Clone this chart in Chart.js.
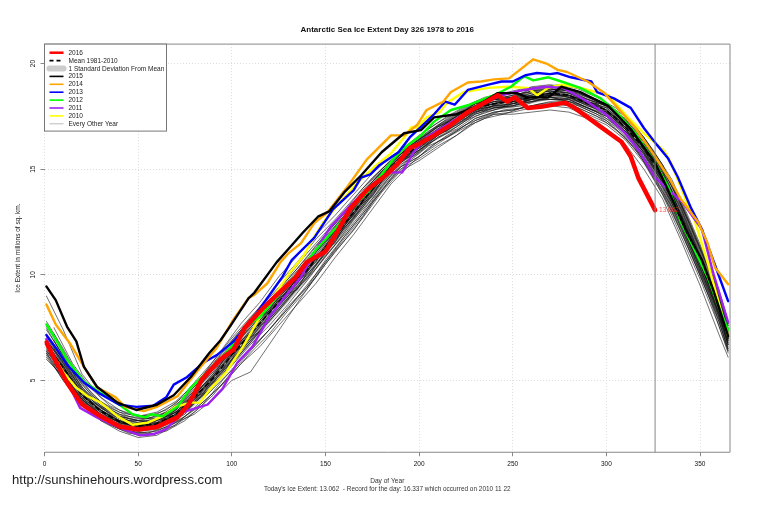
<!DOCTYPE html>
<html>
<head>
<meta charset="utf-8">
<script src="https://cdn.jsdelivr.net/npm/chart.js@4"></script>
<style>
  body { margin: 0; background: #fff; }
  #url { position: absolute; left: 12px; top: 472px; font: 13.1px "Liberation Sans", Arial, sans-serif; color: #222; }
</style>
</head>
<body>
<canvas id="c" width="759" height="506"></canvas>
<div id="url">http://sunshinehours.wordpress.com</div>
<script>
// values, day of year / extent in millions of sq km
const days2016 = [1,6,12,15,20,30,40,50,60,71,77,84,94,101,107,117,127,134,140,150,156,163,172,182,188,195,199,208,217,226,233,242,247,251,258,265,278,283,297,308,313,317,326];
const vals2016 = [6.8,5.9,4.9,4.5,3.87,3.3,2.82,2.68,2.8,3.25,3.87,5.05,6.0,6.47,7.5,8.45,9.3,9.87,10.6,11.1,12,13.1,14,14.7,15.2,16.0,16.15,16.6,17.1,17.7,18.05,18.5,18.2,18.4,17.9,17.95,18.15,17.9,17.0,16.3,15.6,14.6,13.06];

const days2015 = [1,6,12,17,21,28,39,49,60,69,78,88,94,99,109,112,124,130,138,146,152,160,169,180,192,201,208,220,229,242,252,258,269,276,286,301,313,326,333,343,351,357,365];
const vals2015 = [9.45,8.8,7.55,6.85,5.65,4.7,3.95,3.6,3.85,4.3,5.15,6.3,6.9,7.55,8.9,9.15,10.6,11.2,12,12.75,13,13.9,14.7,15.8,16.7,16.85,17.45,17.6,17.9,18.6,18.6,18.4,18.4,18.9,18.65,18,16.9,15.3,14,12,10.7,9.3,7.1];

const days2014 = [1,6,14,21,28,38,43,53,60,71,83,92,101,109,112,119,126,130,137,144,151,162,172,185,192,199,204,213,217,226,233,240,248,261,268,274,279,290,299,306,315,326,334,340,349,354,358,365];
const vals2014 = [8.6,7.65,6.7,5.65,4.67,4.2,3.75,3.55,3.75,4.25,5.6,6.55,7.9,8.9,9.05,9.6,10.6,11,11.5,12.45,12.95,14.2,15.45,16.6,16.6,17.1,17.8,18.2,18.65,19.1,19.15,19.25,19.3,20.2,20,19.7,19.6,19.15,18.6,17.9,17,15.6,14.5,13.55,12.5,11.5,10.35,9.55];

const days2013 = [1,6,12,21,30,40,49,58,65,69,76,85,92,101,111,121,127,132,144,154,165,169,174,179,189,195,201,208,214,219,226,237,244,250,257,263,270,274,281,292,295,304,313,320,327,333,338,345,351,357,365];
const vals2013 = [7.15,6.55,5.75,4.9,4.35,3.85,3.75,3.8,4.2,4.8,5.15,5.85,6.2,6.85,7.9,9.15,9.9,10.7,11.75,13.1,14,14.6,14.75,15.2,15.8,16.5,17,17.6,18.2,18.05,18.75,19,19.15,19.15,19.45,19.55,19.5,19.55,19.35,19.15,18.65,18.35,17.9,16.95,16.15,15.5,14.65,13.2,12.15,10.7,8.75];

const days2012 = [1,6,12,21,30,40,47,54,57,63,71,78,87,97,109,115,126,137,145,156,165,174,186,192,201,208,217,227,240,249,256,261,269,276,286,297,306,315,326,333,340,347,354,361,365];
const vals2012 = [7.65,6.95,6,4.95,4.4,3.85,3.4,3.25,3.4,3.3,3.75,4.65,5.4,6.3,7.65,8,9.15,10.25,11.2,12.25,13.25,14.05,15.45,16,16.6,17.25,17.8,18.05,18.5,18.9,19.4,19.2,19.35,19.15,18.85,18.35,17.65,16.75,15.3,14.15,12.45,11.2,9.9,8.25,7.4];

const days2011 = [1,6,13,19,28,39,51,58,65,74,87,95,103,111,120,130,137,144,153,163,174,183,191,197,204,213,222,233,244,256,267,277,288,299,310,318,326,341,351,357,365];
const vals2011 = [6.95,5.85,4.8,3.7,3.25,2.8,2.4,2.45,2.7,3.5,3.85,4.6,5.85,6.6,8,9.15,9.9,11.05,12.3,13.25,14.2,14.85,14.85,15.8,16.5,17,17.5,18.05,18.5,18.75,18.9,18.85,18.3,17.65,16.7,15.8,14.6,13.4,12.15,10.1,7.75];

const days2010 = [1,10,17,23,30,39,47,55,63,70,78,83,88,97,106,115,131,138,144,149,156,167,176,185,192,196,199,204,211,215,224,237,247,258,263,269,276,286,301,311,320,331,335,343,347,354,359,365];
const vals2010 = [6.7,5.4,4.65,4.25,3.95,3.3,2.9,3,3.3,3.75,3.95,3.95,4.55,5.4,6.6,8,10.1,10.85,11.8,12.5,13.25,14.35,15.1,15.75,16.5,17,16.95,17.45,17.7,18.15,18.65,18.85,18.9,18.85,18.5,18.85,19,18.85,18.5,17.5,16.7,15.85,15.2,13.4,12.6,10.6,9,7.1];

// thin lines, mean and sd all share these days
const days = [1,10,20,30,40,50,60,70,80,90,100,110,120,130,140,150,160,170,180,190,200,210,220,230,240,250,260,270,280,290,300,310,320,330,340,350,360,365];
const meanVals = [6.7,5.6,4.3,3.55,3.05,2.85,2.95,3.4,4.2,5.1,6.2,7.2,8.2,9.2,10.2,11.3,12.4,13.5,14.6,15.5,16.1,16.8,17.3,17.9,18.1,18.2,18.4,18.6,18.5,18.1,17.8,17,16,14.6,12.7,10.6,8.5,7];
const sdUpper = [7.2,6,4.7,3.9,3.4,3.2,3.3,3.8,4.6,5.6,6.7,7.7,8.7,9.7,10.7,11.8,12.9,13.9,15,15.8,16.5,17.1,17.6,18.2,18.4,18.5,18.7,18.9,18.8,18.4,18.1,17.4,16.4,15,13.2,11.1,9,7.5];
const sdLower = [6.2,5.1,3.9,3.2,2.7,2.5,2.6,3,3.8,4.6,5.7,6.7,7.7,8.7,9.7,10.8,11.9,13.1,14.2,15.2,15.7,16.5,17,17.6,17.8,17.9,18.1,18.3,18.2,17.8,17.5,16.6,15.6,14.2,12.2,10.1,8,6.5];

const yr1979 = [9.0,7.4,5.3,4.2,3.6,3.3,3.4,3.9,4.9,5.9,7.0,8.0,8.9,9.9,11.0,12.0,13.0,14.1,15.0,15.8,16.4,17.0,17.5,18.0,18.3,18.4,18.7,18.8,18.7,18.3,18.0,17.2,16.3,15.0,13.3,11.2,9.1,7.6];
const yr1980 = [6.3,5.0,3.9,3.2,2.7,2.4,2.5,3.0,3.4,4.1,5.0,5.4,6.7,8.0,9.3,10.5,11.6,12.7,13.9,14.9,15.4,16.0,16.6,17.2,17.6,17.6,17.7,17.8,17.7,17.4,16.9,16.2,15.0,13.6,11.6,9.5,7.2,6.1];
const yr1981 = [7.8,6.5,4.9,4.0,3.5,3.3,3.5,4.0,4.8,5.8,6.9,7.9,8.8,9.8,10.8,11.9,12.9,14.0,15.0,15.9,16.6,17.2,17.7,18.2,18.4,18.6,18.9,19.0,18.8,18.4,18.1,17.5,16.5,15.2,13.4,11.3,9.3,7.8];
const yr1982 = [6.1,5.1,3.9,3.1,2.6,2.3,2.4,2.9,3.7,4.6,5.5,6.5,7.4,8.5,9.4,10.7,11.8,12.9,14.0,15.1,15.6,16.2,16.8,17.4,17.7,17.8,18.0,18.1,18.0,17.6,17.2,16.5,15.4,13.9,12.0,10.0,7.8,6.5];
const yr1983 = [6.9,5.9,4.5,3.7,3.2,3.0,3.2,3.7,4.5,5.4,6.5,7.6,8.5,9.6,10.6,11.7,12.6,13.8,14.8,15.7,16.3,17.0,17.4,18.0,18.2,18.3,18.5,18.7,18.6,18.2,17.9,17.1,16.2,14.9,13.0,10.9,8.8,7.3];
const yr1984 = [6.4,5.4,4.1,3.4,2.9,2.7,2.8,3.2,4.0,4.9,5.9,6.9,7.9,8.9,10.0,11.0,12.2,13.2,14.4,15.3,15.9,16.6,17.1,17.6,17.9,18.0,18.2,18.3,18.3,17.9,17.5,16.8,15.8,14.3,12.4,10.3,8.2,6.8];
const yr1985 = [7.1,5.8,4.4,3.6,3.1,2.8,2.9,3.5,4.3,5.3,6.4,7.3,8.4,9.4,10.4,11.5,12.7,13.6,14.7,15.6,16.2,16.9,17.5,18.0,18.3,18.4,18.6,18.7,18.5,18.2,17.8,17.1,16.0,14.7,12.9,10.8,8.7,7.2];
const yr1986 = [6.5,5.3,4.0,3.3,2.9,2.6,2.7,3.1,3.9,4.8,5.7,6.7,7.6,8.6,9.7,10.9,11.9,13.0,14.2,15.2,15.8,16.5,16.9,17.5,17.8,18.1,18.2,18.4,18.2,17.8,17.4,16.7,15.6,14.1,12.2,10.1,8.0,6.6];
const yr1987 = [7.4,6.2,4.6,3.8,3.3,3.1,3.0,3.6,4.5,5.5,6.6,7.5,8.6,9.5,10.6,11.6,12.5,13.6,14.6,15.4,16.1,16.7,17.2,17.8,18.0,18.3,18.3,18.6,18.4,18.0,17.7,17.0,16.1,14.8,13.1,11.0,8.9,7.4];
const yr1988 = [6.6,5.5,4.2,3.5,3.0,2.8,3.0,3.3,4.1,5.0,6.1,7.1,8.0,9.1,10.1,11.2,12.3,13.4,14.5,15.4,16.0,16.7,17.3,17.7,18.0,18.1,18.3,18.5,18.4,18.0,17.7,16.9,15.9,14.5,12.6,10.5,8.4,7.0];
const yr1989 = [6.0,5.2,4.0,3.2,2.8,2.5,2.6,3.0,3.6,4.4,5.3,6.3,7.2,8.3,9.3,10.6,11.7,12.8,14.0,15.0,15.5,16.1,16.6,17.3,17.6,17.7,17.9,18.0,17.9,17.5,17.1,16.4,15.3,13.8,11.8,9.8,7.6,6.4];
const yr1990 = [7.0,5.7,4.3,3.6,3.1,2.9,3.1,3.6,4.4,5.2,6.3,7.4,8.3,9.3,10.3,11.4,12.5,13.7,14.7,15.6,16.3,16.8,17.4,17.9,18.2,18.4,18.5,18.8,18.6,18.3,18.0,17.2,16.2,14.8,12.8,10.7,8.6,7.1];
const yr1991 = [6.8,5.6,4.4,3.5,3.0,2.8,2.9,3.4,4.2,5.2,6.2,7.0,8.1,9.0,10.2,11.3,12.4,13.5,14.5,15.5,16.0,16.7,17.2,17.8,18.1,18.2,18.4,18.5,18.5,18.1,17.6,16.9,16.0,14.6,12.5,10.4,8.3,6.9];
const yr1992 = [6.3,5.2,4.1,3.4,2.8,2.7,2.8,3.2,3.9,4.9,6.0,6.9,7.8,8.8,9.9,11.0,12.1,13.2,14.3,15.3,15.9,16.5,17.0,17.6,17.9,18.0,18.3,18.3,18.2,17.9,17.5,16.7,15.7,14.2,12.3,10.2,8.1,6.7];
const yr1993 = [7.5,6.1,4.7,3.8,3.3,3.1,3.3,3.7,4.6,5.6,6.7,7.7,8.6,9.6,10.6,11.7,12.8,13.9,14.9,15.7,16.4,17.1,17.6,18.1,18.3,18.5,18.7,18.8,18.7,18.4,18.0,17.3,16.4,15.1,13.2,11.1,9.0,7.5];
const yr1994 = [6.6,5.7,4.2,3.4,3.0,2.9,2.9,3.4,4.3,5.0,6.0,7.1,8.2,9.3,10.3,11.2,12.3,13.4,14.6,15.5,16.2,16.8,17.3,17.9,18.2,18.2,18.5,18.6,18.4,18.1,17.8,17.0,15.9,14.4,12.7,10.6,8.5,7.0];
const yr1995 = [7.2,6.0,4.5,3.7,3.2,3.0,3.1,3.5,4.3,5.3,6.5,7.5,8.4,9.4,10.5,11.6,12.6,13.7,14.8,15.6,16.3,16.9,17.5,18.1,18.3,18.3,18.6,18.7,18.6,18.2,17.9,17.2,16.3,14.9,13.1,10.9,8.7,7.3];
const yr1996 = [6.2,5.0,3.8,3.1,2.7,2.5,2.5,2.9,3.5,4.3,5.4,6.4,7.4,8.4,9.5,10.6,11.8,12.9,14.1,15.1,15.6,16.3,16.8,17.4,17.7,17.8,18.0,18.2,18.1,17.7,17.3,16.5,15.5,14.0,12.1,10.0,7.9,6.4];
const yr1997 = [6.7,5.5,4.3,3.6,3.1,2.8,3.0,3.5,4.2,5.1,6.2,7.3,8.2,9.2,10.1,11.4,12.4,13.5,14.5,15.4,16.1,16.6,17.3,17.8,18.0,18.1,18.3,18.6,18.5,18.1,17.7,16.9,15.8,14.5,12.6,10.6,8.4,6.9];
const yr1998 = [7.6,6.3,4.8,3.9,3.4,3.2,3.2,3.8,4.7,5.6,6.8,7.8,8.7,9.7,10.7,11.8,12.8,13.9,14.9,15.7,16.4,17.0,17.5,18.1,18.4,18.4,18.8,18.9,18.7,18.3,18.0,17.4,16.5,15.2,13.3,11.2,9.2,7.7];
const yr1999 = [6.4,5.3,4.1,3.3,2.9,2.6,2.8,3.3,4.0,4.7,5.8,6.8,7.9,8.9,9.8,11.1,12.2,13.3,14.4,15.4,15.9,16.6,17.1,17.7,17.9,18.0,18.2,18.4,18.3,17.9,17.6,16.8,15.7,14.4,12.4,10.3,8.2,6.7];
const yr2000 = [6.9,5.8,4.4,3.6,3.0,2.7,2.9,3.4,4.1,5.2,6.3,7.2,8.3,9.3,10.3,11.3,12.3,13.5,14.7,15.6,16.2,16.8,17.4,17.9,18.1,18.3,18.4,18.5,18.5,18.2,17.8,17.1,16.1,14.7,12.8,10.7,8.6,7.2];
const thinSeries = [yr1979,yr1980,yr1981,yr1982,yr1983,yr1984,yr1985,yr1986,yr1987,yr1988,yr1989,yr1990,yr1991,yr1992,yr1993,yr1994,yr1995,yr1996,yr1997,yr1998,yr1999,yr2000];

// the other thin lines, read on the in-between days
const daysB = [5,15,25,35,45,55,65,75,85,95,105,115,125,135,145,155,165,175,185,195,205,215,225,235,245,255,265,275,285,295,305,315,325,335,345,355,365];
const yr1978 = [6.9,5.4,4.3,3.7,3.3,3.2,3.5,4.2,5.2,6.3,7.4,8.5,9.6,10.6,11.7,12.6,13.6,14.6,15.4,16.0,16.7,17.4,17.9,18.3,18.5,18.7,18.8,18.9,18.7,18.2,17.7,17.0,15.7,14.2,12.3,10.2,7.6];
const yr2001 = [5.8,4.5,3.5,2.9,2.5,2.4,2.6,3.1,3.9,5.0,6.0,6.9,7.9,8.9,9.9,11.1,12.1,13.4,14.5,15.4,16.1,16.5,17.0,17.4,17.6,17.9,18.0,18.1,17.9,17.5,16.9,16.0,14.7,13.2,11.2,9.1,6.5];
const yr2002 = [6.5,5.2,4.0,3.5,3.1,3.1,3.2,4.0,4.4,5.9,6.6,8.0,8.6,9.9,10.6,12.1,12.8,14.2,14.9,16.0,16.4,17.2,17.4,18.1,18.0,18.4,18.4,18.7,18.2,18.1,17.3,16.7,15.2,13.9,11.6,9.8,7.1];
const yr2003 = [6.0,4.7,3.7,3.1,2.8,2.7,3.0,3.4,4.6,5.2,6.8,7.3,8.9,9.3,10.9,11.5,13.1,13.7,15.2,15.6,16.6,16.8,17.7,17.8,18.3,18.1,18.6,18.3,18.4,17.8,17.5,16.3,15.4,13.5,11.8,9.4,6.8];
const yr2004 = [7.2,5.6,4.4,3.6,3.2,3.0,3.4,3.9,5.0,6.1,7.2,8.2,9.3,10.3,11.4,12.4,13.4,14.4,15.3,16.1,16.8,17.3,17.8,18.2,18.4,18.6,18.7,18.8,18.6,18.3,17.7,16.9,15.8,14.3,12.4,10.3,7.4];
const yr2005 = [6.3,5.0,3.8,3.2,2.9,2.8,3.1,3.6,4.3,5.3,6.3,7.3,8.3,9.4,10.3,11.4,12.6,13.6,14.7,15.5,16.2,16.7,17.3,17.7,17.9,18.0,18.3,18.3,18.1,17.7,17.1,16.2,14.9,13.4,11.4,9.3,6.7];
const yr2006 = [6.6,5.3,4.1,3.4,3.0,2.9,3.3,3.7,4.8,5.5,6.9,7.6,9.0,9.8,11.1,12.0,13.2,14.1,15.1,15.8,16.6,17.1,17.6,18.0,18.2,18.2,18.6,18.5,18.3,18.1,17.4,16.6,15.5,13.8,11.9,9.7,7.2];
const yr2007 = [5.9,4.6,3.6,3.0,2.6,2.5,2.8,3.3,4.0,4.8,5.8,6.6,7.6,8.6,9.6,10.8,11.9,13.1,14.3,15.2,16.0,16.6,17.1,17.5,17.8,17.9,18.1,18.2,18.0,17.6,17.0,16.1,14.6,13.0,11.0,8.9,6.3];
const yr2008 = [7.5,5.8,4.6,3.8,3.4,3.3,3.6,4.3,5.3,6.5,7.7,8.7,9.9,10.9,11.9,12.8,13.8,14.8,15.6,16.2,16.9,17.5,18.0,18.4,18.6,18.8,18.9,19.0,18.8,18.4,17.9,17.1,15.9,14.5,12.5,10.4,7.7];
const yr2009 = [6.2,4.9,3.9,3.3,2.9,2.8,3.0,3.7,4.5,5.4,6.5,7.5,8.5,9.5,10.5,11.7,12.7,13.9,14.9,15.7,16.3,16.9,17.4,17.9,18.0,18.2,18.4,18.4,18.2,17.9,17.2,16.4,15.1,13.6,11.5,9.5,6.9];
const thinSeriesB = [yr1978,yr2001,yr2002,yr2003,yr2004,yr2005,yr2006,yr2007,yr2008,yr2009];

const xTicks = [0,50,100,150,200,250,300,350];
const yTicks = [5,10,15,20];
const todayDay = 326;
const todayLabel = '13.062';
const legendLabels = ['2016','Mean 1981-2010','1 Standard Deviation From Mean','2015','2014','2013','2012','2011','2010','Every Other Year'];
const legendColors = ['#ff0000','#000000','#cccccc','#000000','#ffa500','#0000ff','#00ff00','#a020f0','#ffff00','#aaaaaa'];
const legendWidths = [2.5,1.6,6,1.6,1.6,1.6,1.6,1.6,1.6,0.8];

const FONT = '"Liberation Sans", Arial, sans-serif';
const pts = (xs, ys) => ys.map((v, i) => ({x: xs[i], y: v}));

const datasets = [];
// sd band first so everything sits on it
datasets.push({data: pts(days, sdUpper), borderWidth: 0, pointRadius: 0, backgroundColor: '#cccccc', fill: '+1'});
datasets.push({data: pts(days, sdLower), borderWidth: 0, pointRadius: 0, fill: false});
thinSeries.forEach(s => {
  datasets.push({data: pts(days, s), borderColor: '#111', borderWidth: 0.6, pointRadius: 0, fill: false});
});
thinSeriesB.forEach(s => {
  datasets.push({data: pts(daysB, s), borderColor: '#111', borderWidth: 0.6, pointRadius: 0, fill: false});
});
datasets.push({data: pts(days, meanVals), borderColor: '#000', borderWidth: 1.6, borderDash: [4, 4], pointRadius: 0, fill: false});
function thick(xs, ys, color, w) {
  datasets.push({data: pts(xs, ys), borderColor: color, borderWidth: w, pointRadius: 0, fill: false});
}
thick(days2010, vals2010, '#ffff00', 2.4);
thick(days2011, vals2011, '#a020f0', 2.4);
thick(days2012, vals2012, '#00ff00', 2.4);
thick(days2013, vals2013, '#0000ff', 2.4);
thick(days2014, vals2014, '#ffa500', 2.4);
thick(days2015, vals2015, '#000000', 2.4);
thick(days2016, vals2016, '#ff0000', 4.5);

const yMin = 1.6, yMax = 20.92;
// today's marker
datasets.push({data: [{x: todayDay, y: yMin}, {x: todayDay, y: yMax}], borderColor: '#888', borderWidth: 1, pointRadius: 0, fill: false});

// chart.js paints the lowest order last, so later pushes get lower order
datasets.forEach((d, i) => { d.order = datasets.length - i; });

const frameAndLegend = {
  id: 'frameAndLegend',
  afterDatasetsDraw(chart) {
    const {ctx, chartArea: a, scales} = chart;
    ctx.save();
    // box, left side stays dotted like the grid
    ctx.strokeStyle = '#888';
    ctx.lineWidth = 1;
    ctx.beginPath();
    ctx.moveTo(a.left, a.top); ctx.lineTo(a.right, a.top); ctx.lineTo(a.right, a.bottom); ctx.lineTo(a.left, a.bottom);
    ctx.stroke();

    // end label of the current year
    const ex = scales.x.getPixelForValue(days2016[days2016.length - 1]);
    const ey = scales.y.getPixelForValue(vals2016[vals2016.length - 1]);
    ctx.fillStyle = 'rgba(255,40,40,0.8)';
    ctx.font = '6.5px ' + FONT;
    ctx.textAlign = 'left';
    ctx.textBaseline = 'middle';
    ctx.fillText(todayLabel, ex + 4, ey + 0.5);

    // legend
    const bx = a.left, by = a.top, bw = 122, bh = 87;
    ctx.fillStyle = '#fff';
    ctx.fillRect(bx, by, bw, bh);
    ctx.strokeStyle = '#777';
    ctx.strokeRect(bx, by, bw, bh);
    legendLabels.forEach((t, i) => {
      const ly = by + 8.6 + i * 7.9;
      ctx.strokeStyle = legendColors[i];
      ctx.lineWidth = legendWidths[i];
      ctx.lineCap = i === 2 ? 'round' : 'butt';
      ctx.setLineDash(i === 1 ? [4, 3] : []);
      ctx.beginPath();
      ctx.moveTo(bx + 5, ly);
      ctx.lineTo(bx + 19, ly);
      ctx.stroke();
      ctx.setLineDash([]);
      ctx.fillStyle = '#222';
      ctx.font = '6.5px ' + FONT;
      ctx.fillText(t, bx + 24, ly + 0.3);
    });
    ctx.restore();
  }
};

new Chart(document.getElementById('c'), {
  type: 'line',
  data: {datasets: datasets},
  plugins: [frameAndLegend],
  options: {
    responsive: false,
    animation: false,
    devicePixelRatio: 1,
    layout: {padding: {top: 25, right: 29, bottom: 13, left: 0}},
    elements: {line: {tension: 0, borderJoinStyle: 'round', borderCapStyle: 'round'}},
    plugins: {
      legend: {display: false},
      tooltip: {enabled: false},
      title: {
        display: true,
        fullSize: false,
        text: 'Antarctic Sea Ice Extent Day 326 1978 to 2016',
        color: '#111',
        font: {family: FONT, size: 8, weight: 'bold'},
        padding: {top: 0, bottom: 9.5}
      },
      subtitle: {
        display: true,
        fullSize: false,
        position: 'bottom',
        text: "Today's Ice Extent: 13.062  - Record for the day: 16.337 which occurred on 2010 11 22",
        color: '#333',
        font: {family: FONT, size: 6.45},
        padding: 0
      }
    },
    scales: {
      x: {
        type: 'linear',
        min: 0,
        max: 366,
        afterBuildTicks: s => { s.ticks = xTicks.map(v => ({value: v})); },
        afterFit: s => { s.height = 33; },
        grid: {color: '#ddd', tickColor: '#888', tickLength: 4, tickBorderDash: [], drawTicks: true},
        border: {display: false, dash: [1, 2]},
        ticks: {color: '#111', font: {family: FONT, size: 6.5}, maxRotation: 0, padding: 4},
        title: {display: true, text: 'Day of Year', color: '#333', font: {family: FONT, size: 6.6}, padding: 0}
      },
      y: {
        min: yMin,
        max: yMax,
        afterBuildTicks: s => { s.ticks = yTicks.map(v => ({value: v})); },
        afterFit: s => { s.width = 44.5; },
        grid: {color: '#ddd', tickColor: '#888', tickLength: 4},
        border: {display: false, dash: [1, 2]},
        ticks: {color: '#111', font: {family: FONT, size: 6.5}, minRotation: 90, maxRotation: 90, padding: 4, crossAlign: 'center'},
        title: {display: true, text: 'Ice Extent in millions of sq. km.', color: '#222', font: {family: FONT, size: 6.5}, padding: {top: 14, bottom: 0}}
      }
    }
  }
});
</script>
</body>
</html>
